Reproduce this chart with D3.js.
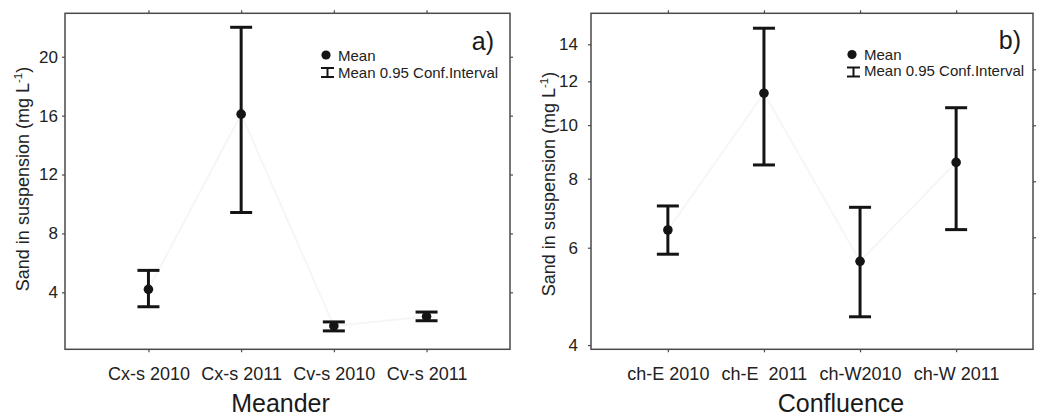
<!DOCTYPE html>
<html>
<head>
<meta charset="utf-8">
<script src="https://cdn.jsdelivr.net/npm/d3@7"></script>
<style>
  html, body { margin: 0; padding: 0; background: #fff; }
  svg { display: block; font-family: "Liberation Sans", Arial, sans-serif; }
  .tick text { fill: #222; }
</style>
</head>
<body>
<svg id="chart" width="1038" height="418"></svg>
<script>
// Panel a) Meander: mean sand concentration with 95% confidence interval
const meanderCats = ["Cx-s 2010", "Cx-s 2011", "Cv-s 2010", "Cv-s 2011"];
const meanderMean = [4.2, 16.1, 1.72, 2.35];
const meanderLow  = [3.02, 9.42, 1.38, 2.07];
const meanderHigh = [5.49, 22.0, 1.99, 2.66];
const meanderTicks = [4, 8, 12, 16, 20];

// Panel b) Confluence (log-scaled axis)
const confCats = ["ch-E 2010", "ch-E  2011", "ch-W2010", "ch-W 2011"];
const confMean = [6.46, 11.42, 5.67, 8.56];
const confLow  = [5.84, 8.47, 4.50, 6.47];
const confHigh = [7.14, 14.97, 7.10, 10.75];
const confTicks = [4, 6, 8, 10, 12, 14];
const confRightTicks = [6, 8, 10, 12, 14];

const svg = d3.select("#chart");
const ink = "#141414";
const frameCol = "#4a4a4a";

function drawPanel(cfg) {
  const g = svg.append("g");
  const x = d3.scalePoint().domain(cfg.cats).range([cfg.x0, cfg.x1]).padding(cfg.pad);
  const y = cfg.y;

  // faint connecting trace between means
  g.append("path")
    .datum(cfg.cats.map((c, i) => [x(c), y(cfg.mean[i])]))
    .attr("d", d3.line())
    .attr("fill", "none")
    .attr("stroke", "#f6f6f6")
    .attr("stroke-width", 2);

  // axes
  const yl = g.append("g").attr("transform", `translate(${cfg.x0},0)`)
    .call(d3.axisLeft(y).tickValues(cfg.ticks).tickFormat(d3.format("d")).tickSize(3).tickPadding(cfg.yPad));
  const yr = g.append("g").attr("transform", `translate(${cfg.x1},0)`)
    .call(d3.axisRight(cfg.yRight || y).tickValues(cfg.rightTicks || cfg.ticks).tickFormat("").tickSize(3));
  const xb = g.append("g").attr("transform", `translate(0,${cfg.y1})`)
    .call(d3.axisBottom(x).tickSize(3).tickPadding(15));
  const xt = g.append("g").attr("transform", `translate(0,${cfg.y0})`)
    .call(d3.axisTop(x).tickFormat("").tickSize(3));
  [yl, yr, xb, xt].forEach(a => {
    a.select(".domain").remove();
    a.selectAll(".tick line").attr("stroke", frameCol).attr("stroke-width", 1.2);
  });
  yl.selectAll(".tick text").attr("font-size", 17);
  xb.selectAll(".tick text").attr("font-size", 18).style("white-space", "pre");

  // frame
  g.append("rect")
    .attr("x", cfg.x0).attr("y", cfg.y0)
    .attr("width", cfg.x1 - cfg.x0).attr("height", cfg.y1 - cfg.y0)
    .attr("fill", "none").attr("stroke", frameCol).attr("stroke-width", 1.5);

  // error bars
  const capW = 22;
  const bars = g.append("g").attr("stroke", ink).attr("stroke-width", 3).attr("fill", "none");
  cfg.cats.forEach((c, i) => {
    const cx = x(c);
    bars.append("line").attr("x1", cx).attr("x2", cx).attr("y1", y(cfg.low[i])).attr("y2", y(cfg.high[i]));
    bars.append("line").attr("x1", cx - capW / 2).attr("x2", cx + capW / 2).attr("y1", y(cfg.high[i])).attr("y2", y(cfg.high[i]));
    bars.append("line").attr("x1", cx - capW / 2).attr("x2", cx + capW / 2).attr("y1", y(cfg.low[i])).attr("y2", y(cfg.low[i]));
  });
  g.append("g").selectAll("circle").data(cfg.cats).join("circle")
    .attr("cx", d => x(d))
    .attr("cy", (d, i) => y(cfg.mean[i]))
    .attr("r", 4.8)
    .attr("fill", ink);

  // y title
  const yt = g.append("text")
    .attr("transform", `translate(${cfg.ytX},${cfg.ytY}) rotate(-90)`)
    .attr("text-anchor", "middle")
    .attr("font-size", 18)
    .attr("fill", "#222");
  yt.append("tspan").text("Sand in suspension (mg L");
  yt.append("tspan").attr("font-size", 11.5).attr("dy", -7).text("-1");
  yt.append("tspan").attr("dy", 7).text(")");

  // x title
  g.append("text")
    .attr("x", cfg.xtX).attr("y", 412)
    .attr("text-anchor", "middle")
    .attr("font-size", 25)
    .attr("fill", "#1a1a1a")
    .text(cfg.title);

  // panel letter
  g.append("text")
    .attr("x", cfg.letterX).attr("y", cfg.letterY)
    .attr("text-anchor", "end")
    .attr("font-size", 25)
    .attr("fill", "#1a1a1a")
    .text(cfg.letter);

  // legend
  const lg = g.append("g").attr("transform", `translate(${cfg.legX},${cfg.legY})`);
  lg.append("circle").attr("cx", -12).attr("cy", -5.5).attr("r", 4.6).attr("fill", ink);
  lg.append("text").attr("x", 0).attr("y", 0).attr("font-size", 15).attr("fill", "#222").text("Mean");
  const ib = lg.append("g").attr("stroke", ink).attr("stroke-width", 2);
  ib.append("line").attr("x1", -17).attr("x2", -4).attr("y1", 7.5).attr("y2", 7.5);
  ib.append("line").attr("x1", -17).attr("x2", -4).attr("y1", 16.5).attr("y2", 16.5);
  ib.append("line").attr("x1", -10.5).attr("x2", -10.5).attr("y1", 7.5).attr("y2", 16.5);
  lg.append("text").attr("x", 0).attr("y", cfg.legDy).attr("font-size", 15).attr("fill", "#222").text("Mean 0.95 Conf.Interval");
}

drawPanel({
  cats: meanderCats, mean: meanderMean, low: meanderLow, high: meanderHigh, ticks: meanderTicks,
  x0: 65, x1: 510, y0: 13.3, y1: 349.3, pad: 0.9,
  y: d3.scaleLinear().domain([0.13, 22.95]).range([349.3, 13.3]),
  yPad: 4, ytX: 28.5, ytY: 179, xtX: 280.5, title: "Meander",
  letter: "a)", letterX: 494, letterY: 50,
  legX: 338, legY: 60.5, legDy: 17
});

drawPanel({
  cats: confCats, mean: confMean, low: confLow, high: confHigh, ticks: confTicks,
  x0: 591, x1: 1033, y0: 13.3, y1: 349.3, pad: 0.8,
  y: d3.scaleLog().domain([3.93, 15.93]).range([349.3, 13.3]),
  yRight: d3.scaleLinear().domain([4, 16]).range([349.3, 13.3]), rightTicks: confRightTicks,
  yPad: 10, ytX: 555, ytY: 184, xtX: 841, title: "Confluence",
  letter: "b)", letterX: 1021, letterY: 48.5,
  legX: 864, legY: 60, legDy: 15.5
});
</script>
</body>
</html>
